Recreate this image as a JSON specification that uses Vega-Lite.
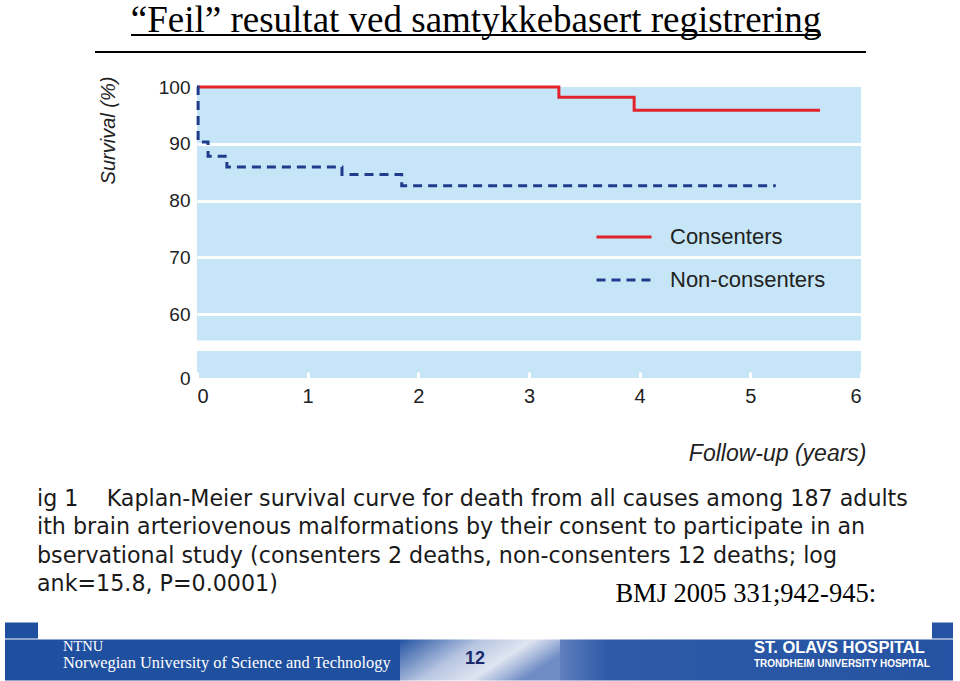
{
  "$schema": "https://vega.github.io/schema/vega-lite/v6.json",
  "background": "white",
  "padding": {"left": 5, "top": 2, "right": 5, "bottom": 2},
  "config": {"view": {"stroke": null}, "font": "Liberation Sans"},
  "datasets": {
    "km": [
      {"group": "Consenters", "t": 0, "s": 100},
      {"group": "Consenters", "t": 3.27, "s": 98.2},
      {"group": "Consenters", "t": 3.95, "s": 95.9},
      {"group": "Consenters", "t": 5.63, "s": 95.9},
      {"group": "Non-consenters", "t": 0, "s": 100},
      {"group": "Non-consenters", "t": 0.01, "s": 90.3},
      {"group": "Non-consenters", "t": 0.1, "s": 87.8},
      {"group": "Non-consenters", "t": 0.27, "s": 85.9},
      {"group": "Non-consenters", "t": 1.31, "s": 84.6},
      {"group": "Non-consenters", "t": 1.85, "s": 82.6},
      {"group": "Non-consenters", "t": 5.23, "s": 82.6}
    ],
    "axisbreak": [{"lo": 4.7, "hi": 55.4}]
  },
  "spacing": 23,
  "vconcat": [
    {
      "spacing": 12,
      "vconcat": [
        {
          "spacing": 0,
          "hconcat": [
            {"width": 125, "height": 2, "data": {"values": []}, "mark": "point", "encoding": {}},
            {
              "title": {"text": "“Feil” resultat ved samtykkebasert registrering", "font": "Liberation Serif", "fontSize": 37, "fontWeight": "normal", "color": "black", "anchor": "middle", "offset": -6},
              "width": 690,
              "height": 2,
              "view": {"fill": "black", "stroke": null},
              "data": {"values": []},
              "mark": "point",
              "encoding": {}
            }
          ]
        },
        {
          "spacing": 0,
          "hconcat": [
            {"width": 90, "height": 2, "data": {"values": []}, "mark": "point", "encoding": {}},
            {
              "width": 771,
              "height": 2,
              "view": {"fill": "black", "stroke": null},
              "data": {"values": []},
              "mark": "point",
              "encoding": {}
            }
          ]
        }
      ]
    },
    {
      "spacing": -15.5,
      "vconcat": [
        {
          "spacing": 0,
          "hconcat": [
            {"width": 32, "height": 1, "data": {"values": []}, "mark": "point", "encoding": {}},
            {
              "width": 664,
              "height": 291,
              "view": {"fill": "#c6e6f7", "stroke": null},
              "title": {
                "text": [
                  "ig 1\u00a0\u00a0\u00a0 Kaplan-Meier survival curve for death from all causes among 187 adults",
                  "ith brain arteriovenous malformations by their consent to participate in an",
                  "bservational study (consenters 2 deaths, non-consenters 12 deaths; log",
                  "ank=15.8, P=0.0001)"
                ],
                "orient": "bottom", "anchor": "start", "frame": "group", "dx": -160, "offset": 23,
                "font": "DejaVu Sans", "fontSize": 22.2, "fontWeight": "normal", "lineHeight": 28.3, "color": "#1a1a1a"
              },
              "layer": [
                {
                  "data": {"name": "axisbreak"},
                  "mark": {"type": "rect", "fill": "white"},
                  "encoding": {
                    "y": {"field": "lo", "type": "quantitative", "title": "Survival (%)",
                      "scale": {"domain": [0, 4.7, 55.4, 100], "range": [291, 264, 253.4, 0], "nice": false, "zero": false}},
                    "y2": {"field": "hi"}
                  }
                },
                {
                  "data": {"name": "km"},
                  "mark": {"type": "line", "interpolate": "step-after", "strokeWidth": 3},
                  "encoding": {
                    "x": {"field": "t", "type": "quantitative", "title": "Follow-up (years)",
                      "scale": {"domain": [0, 6], "nice": false, "zero": false},
                      "axis": {"values": [0, 1, 2, 3, 4, 5, 6], "grid": false, "domain": false, "ticks": true,
                        "tickColor": "white", "tickWidth": 3, "tickSize": -6,
                        "labelFontSize": 20, "labelColor": "#222", "labelPadding": 14,
                        "titleFontSize": 23, "titleFontStyle": "italic", "titleFontWeight": "normal", "titleColor": "#222",
                        "titleAnchor": "end", "titleAlign": "right", "titleX": 669, "titleY": 82, "titleBaseline": "alphabetic"}},
                    "y": {"field": "s", "type": "quantitative", "title": "Survival (%)",
                      "axis": {"values": [0, 60, 70, 80, 90, 100], "grid": true, "gridColor": "white", "gridWidth": 3,
                        "gridOpacity": {"condition": {"test": "datum.value == 0 || datum.value == 100", "value": 0}, "value": 1},
                        "domain": false, "ticks": false, "labelFontSize": 19, "labelColor": "#222", "labelPadding": 7,
                        "titleFontSize": 20, "titleFontStyle": "italic", "titleFontWeight": "normal", "titleColor": "#222",
                        "titleX": -83, "titleY": 43, "titleAlign": "center", "titleBaseline": "alphabetic", "titleAngle": 270}},
                    "color": {"field": "group", "type": "nominal",
                      "scale": {"domain": ["Consenters", "Non-consenters"], "range": ["#e2232a", "#1f3c8c"]},
                      "legend": {"orient": "none", "legendX": 590, "legendY": 174, "title": null,
                        "symbolType": "stroke", "symbolSize": 3025, "symbolStrokeWidth": 3,
                        "labelFontSize": 22, "labelColor": "#222", "labelOffset": 17, "rowPadding": 3, "padding": 0}},
                    "strokeDash": {"field": "group", "type": "nominal",
                      "scale": {"domain": ["Consenters", "Non-consenters"], "range": [[1, 0], [9, 6]]}}
                  }
                }
              ]
            }
          ]
        },
        {
          "title": {"text": "BMJ 2005 331;942-945:", "anchor": "end", "orient": "top", "font": "Liberation Serif", "fontSize": 26.5, "fontWeight": "normal", "color": "black", "dx": -77, "offset": 15.5},
          "spacing": 0,
          "vconcat": [
            {
              "spacing": 0,
              "hconcat": [
                {"width": 33, "height": 16, "view": {"fill": "#1f4f9f", "stroke": null}, "data": {"values": []}, "mark": "point", "encoding": {}},
                {"width": 894, "height": 16, "data": {"values": []}, "mark": "point", "encoding": {}},
                {"width": 21, "height": 16, "view": {"fill": "#2553a3", "stroke": null}, "data": {"values": []}, "mark": "point", "encoding": {}}
              ]
            },
            {
              "spacing": 0,
              "hconcat": [
                {
                  "width": 395, "height": 41,
                  "view": {"fill": "#1f4f9f", "stroke": null},
                  "title": {"text": "NTNU", "subtitle": "Norwegian University of Science and Technology", "anchor": "start", "orient": "top", "dx": 58, "offset": -33,
                    "font": "Liberation Serif", "fontSize": 14.5, "fontWeight": "normal", "color": "white",
                    "subtitleFont": "Liberation Serif", "subtitleFontSize": 16.4, "subtitleColor": "white", "subtitlePadding": 1},
                  "data": {"values": []},
                  "mark": "point",
                  "encoding": {}
                },
                {
                  "width": 160, "height": 41,
                  "view": {"fill": {"gradient": "linear", "x1": 0, "y1": 0, "x2": 1, "y2": 0.4,
                    "stops": [{"offset": 0, "color": "#2453a2"}, {"offset": 0.45, "color": "#b8c6e2"}, {"offset": 0.72, "color": "#dfe5f1"}, {"offset": 1, "color": "#6f8cc5"}]}, "stroke": null},
                  "title": {"text": "12", "anchor": "middle", "orient": "top", "dx": -5, "offset": -28,
                    "font": "Liberation Sans", "fontSize": 18, "fontWeight": "bold", "color": "#1a2a6c"},
                  "data": {"values": []},
                  "mark": "point",
                  "encoding": {}
                },
                {
                  "width": 393, "height": 41,
                  "view": {"fill": {"gradient": "linear", "x1": 0, "y1": 0, "x2": 1, "y2": 0,
                    "stops": [{"offset": 0, "color": "#5f7fbf"}, {"offset": 0.12, "color": "#2e5aa7"}, {"offset": 1, "color": "#2553a3"}]}, "stroke": null},
                  "title": {"text": "ST. OLAVS HOSPITAL", "subtitle": "TRONDHEIM UNIVERSITY HOSPITAL", "anchor": "start", "orient": "top", "dx": 194, "offset": -29,
                    "font": "Liberation Sans", "fontSize": 16.5, "fontWeight": "bold", "color": "white",
                    "subtitleFont": "Liberation Sans", "subtitleFontSize": 10, "subtitleFontWeight": "bold", "subtitleColor": "white", "subtitlePadding": 2},
                  "data": {"values": []},
                  "mark": "point",
                  "encoding": {}
                }
              ]
            }
          ]
        }
      ]
    }
  ]
}
